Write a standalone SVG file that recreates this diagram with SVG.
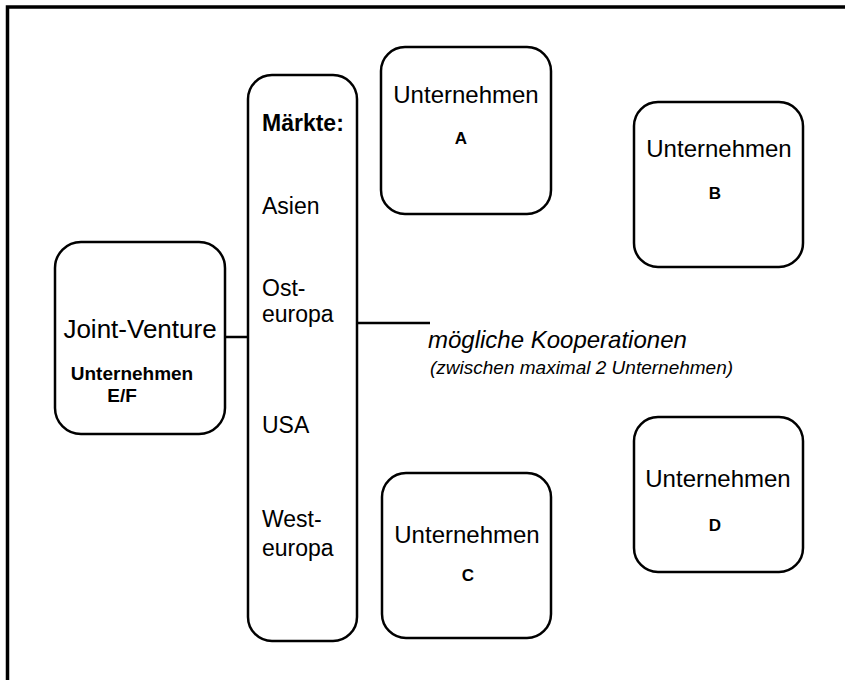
<svg xmlns="http://www.w3.org/2000/svg" width="845" height="680" viewBox="0 0 845 680">
<style>
.box{fill:#fff;stroke:#000;stroke-width:2.5}
.con{stroke:#000;stroke-width:2.5;fill:none}
text{font-family:"Liberation Sans",Arial,sans-serif;fill:#000}
.r{font-size:24px}
.mk{font-size:23px}
.b{font-weight:bold}
.m{text-anchor:middle}
.i{font-style:italic}
.l{font-size:17px;font-weight:bold;text-anchor:middle}
</style>
<rect width="845" height="680" fill="#fff"/>
<path d="M7.5 680 V7 H845" fill="none" stroke="#000" stroke-width="3.5"/>
<g id="connectors">
<line class="con" x1="225" y1="337" x2="248" y2="337"/>
<line class="con" x1="357" y1="323" x2="430" y2="323"/>
</g>
<g id="jv">
<rect class="box" x="55" y="242" width="170" height="192" rx="26"/>
<text class="m" x="140" y="338" font-size="26">Joint-Venture</text>
<text class="m b" x="132" y="380" font-size="19">Unternehmen</text>
<text class="m b" x="122" y="402" font-size="19">E/F</text>
</g>
<g id="maerkte">
<rect class="box" x="248" y="75" width="109" height="566" rx="24"/>
<text class="b" x="262" y="131" font-size="23">Märkte:</text>
<text class="mk" x="262" y="214">Asien</text>
<text class="mk" x="262" y="296">Ost-</text>
<text class="mk" x="262" y="322">europa</text>
<text class="mk" x="262" y="433">USA</text>
<text class="mk" x="262" y="527">West-</text>
<text class="mk" x="262" y="556">europa</text>
</g>
<g id="a">
<rect class="box" x="381" y="47" width="170" height="167" rx="24"/>
<text class="r m" x="466" y="103">Unternehmen</text>
<text class="l" x="461" y="144">A</text>
</g>
<g id="b">
<rect class="box" x="634" y="102" width="169" height="165" rx="24"/>
<text class="r m" x="719" y="157">Unternehmen</text>
<text class="l" x="715" y="199">B</text>
</g>
<g id="c">
<rect class="box" x="382" y="473" width="169" height="165" rx="24"/>
<text class="r m" x="467" y="543">Unternehmen</text>
<text class="l" x="468" y="581">C</text>
</g>
<g id="d">
<rect class="box" x="634" y="417" width="169" height="155" rx="24"/>
<text class="r m" x="718" y="487">Unternehmen</text>
<text class="l" x="715" y="531">D</text>
</g>
<g id="label">
<text class="i" x="428" y="348" font-size="24">mögliche Kooperationen</text>
<text class="i" x="430" y="374" font-size="19">(zwischen maximal 2 Unternehmen)</text>
</g>
</svg>
